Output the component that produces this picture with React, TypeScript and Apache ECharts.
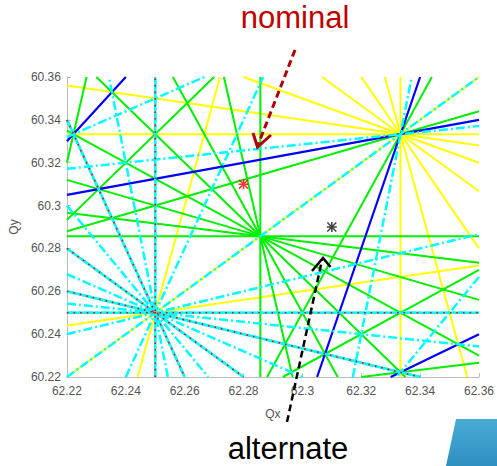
import React, { useEffect, useRef } from "react";
import * as echarts from "echarts";

// Axis ranges and tick labels
const xMin = 62.22;
const xMax = 62.36;
const yMin = 60.22;
const yMax = 60.36;
const tickStep = 0.02;

// Resonance lines m*Qx + n*Qy = p, grouped by order
const order4: number[][] = [[4, 0, 249], [0, 4, 241], [3, 1, 247], [2, 2, 245], [1, 3, 243]];
const order5: number[][] = [[4, -1, 189], [3, -2, 66], [2, -3, -56], [1, -4, -179]];
const order6: number[][] = [
  [6, 0, 374], [0, 6, 362], [5, 1, 372], [4, 2, 370], [3, 3, 368], [2, 4, 366], [1, 5, 364],
  [5, -1, 251], [3, -3, 6], [1, -5, -239],
];
const order7: number[][] = [
  [7, 0, 436], [0, 7, 422], [6, 1, 434], [5, 2, 432], [4, 3, 430], [3, 4, 428], [2, 5, 426], [1, 6, 424],
  [6, -1, 313], [5, -2, 191], [4, -3, 68], [3, -4, -54], [2, -5, -177], [1, -6, -299],
];
const order8: number[][] = [
  [8, 0, 498], [0, 8, 482], [7, 1, 496], [6, 2, 494], [5, 3, 492], [4, 4, 490], [3, 5, 488], [2, 6, 486], [1, 7, 484],
  [7, -1, 376], [6, -2, 253], [5, -3, 131], [4, -4, 8], [3, -5, -115], [2, -6, -237], [1, -7, -360],
];

// Working points
const nominalPoint = [62.28, 60.31];
const alternatePoint = [62.31, 60.29];

const FONT = "'Liberation Sans', Arial, sans-serif";

const STAR =
  "path://M0 8.5 L20 8.5 L20 11.5 L0 11.5 Z M8.5 0 L11.5 0 L11.5 20 L8.5 20 Z M0 2.1 L2.1 0 L20 17.9 L17.9 20 Z M17.9 0 L20 2.1 L2.1 20 L0 17.9 Z";

function segment(m: number, n: number, p: number): number[][] | null {
  const eps = 1e-9;
  const pts: number[][] = [];
  if (n !== 0) {
    for (const x of [xMin, xMax]) {
      const y = (p - m * x) / n;
      if (y >= yMin - eps && y <= yMax + eps) pts.push([x, y]);
    }
  }
  if (m !== 0) {
    for (const y of [yMin, yMax]) {
      const x = (p - n * y) / m;
      if (x >= xMin - eps && x <= xMax + eps) pts.push([x, y]);
    }
  }
  if (pts.length < 2) return null;
  let best: number[][] | null = null;
  let bd = -1;
  for (let i = 0; i < pts.length; i++)
    for (let j = i + 1; j < pts.length; j++) {
      const d = Math.hypot(pts[i][0] - pts[j][0], pts[i][1] - pts[j][1]);
      if (d > bd) {
        bd = d;
        best = [pts[i], pts[j]];
      }
    }
  return bd > 1e-6 ? best : null;
}

function lineSeries(group: number[][], color: string, width: number, type: any, z: number) {
  const out: any[] = [];
  group.forEach(([m, n, p]) => {
    const seg = segment(m, n, p);
    if (!seg) return;
    out.push({
      type: "line",
      data: seg,
      showSymbol: false,
      symbol: "none",
      silent: true,
      z,
      lineStyle: { color, width, type, cap: "butt" },
    });
  });
  return out;
}

const fmt = (v: number) => String(parseFloat(v.toFixed(2)));

export default function App() {
  const ref = useRef<HTMLDivElement>(null);
  useEffect(() => {
    if (!ref.current) return;
    const chart = echarts.init(ref.current, undefined, { renderer: "svg" });
    const series: any[] = [
      ...lineSeries(order6, "#ffff00", 2, "solid", 2),
      ...lineSeries(order7, "#00f000", 2, "solid", 3),
      ...lineSeries(order5, "#0000ff", 2.2, "solid", 4),
      ...lineSeries(order8, "#00ffff", 2.5, [9, 3, 2, 3], 5),
      ...lineSeries(order4, "#00ffff", 2.5, "solid", 6),
      ...lineSeries(order4, "#ff0000", 1.6, [1.6, 5], 7),
      {
        type: "scatter",
        data: [nominalPoint],
        symbol: STAR,
        symbolSize: 10,
        itemStyle: { color: "#ff0000" },
        z: 10,
        silent: true,
      },
      {
        type: "scatter",
        data: [alternatePoint],
        symbol: STAR,
        symbolSize: 10,
        itemStyle: { color: "#111111" },
        z: 10,
        silent: true,
      },
    ];
    const axisCommon = {
      interval: tickStep,
      axisLine: { show: true, lineStyle: { color: "#bdbdbd", width: 1 } },
      axisTick: { show: true, inside: true, length: 4, lineStyle: { color: "#bdbdbd" } },
      splitLine: { show: false },
      nameTextStyle: { color: "#555555", fontSize: 12, fontFamily: FONT },
    };
    chart.setOption({
      animation: false,
      backgroundColor: "#ffffff",
      grid: { left: 62, right: 18, top: 77, bottom: 89, containLabel: false },
      xAxis: {
        type: "value",
        min: xMin,
        max: xMax,
        ...axisCommon,
        name: "Qx",
        nameLocation: "middle",
        nameGap: 31,
        axisLabel: { color: "#555555", fontSize: 12, fontFamily: FONT, margin: 8, formatter: fmt },
      },
      yAxis: {
        type: "value",
        min: yMin,
        max: yMax,
        ...axisCommon,
        name: "Qy",
        nameLocation: "middle",
        nameGap: 44,
        nameRotate: 90,
        axisLabel: { color: "#555555", fontSize: 12, fontFamily: FONT, margin: 6, formatter: fmt },
      },
      series,
      graphic: [
        {
          type: "text",
          x: 295,
          y: 33,
          style: {
            text: "nominal",
            fill: "#c00000",
            font: `31px ${FONT}`,
            textAlign: "center",
            textVerticalAlign: "bottom",
          },
          z: 100,
        },
        {
          type: "line",
          shape: { x1: 295, y1: 50, x2: 258, y2: 145 },
          style: { stroke: "#b00000", lineWidth: 3, lineDash: [7, 4] },
          z: 100,
        },
        {
          type: "polyline",
          shape: { points: [[253, 133], [257.5, 147], [271, 135]] },
          style: { stroke: "#b00000", lineWidth: 3, fill: "none" },
          z: 100,
        },
        {
          type: "line",
          shape: { x1: 287, y1: 422, x2: 322, y2: 260 },
          style: { stroke: "#000000", lineWidth: 2.5, lineDash: [7, 4] },
          z: 100,
        },
        {
          type: "polyline",
          shape: { points: [[312, 271], [323, 258], [330.5, 267]] },
          style: { stroke: "#000000", lineWidth: 2.5, fill: "none" },
          z: 100,
        },
        {
          type: "text",
          x: 288,
          y: 464,
          style: {
            text: "alternate",
            fill: "#000000",
            font: `31px ${FONT}`,
            textAlign: "center",
            textVerticalAlign: "bottom",
          },
          z: 100,
        },
        {
          type: "polygon",
          shape: { points: [[456, 419], [497, 419], [497, 466], [446, 466]] },
          style: {
            fill: new echarts.graphic.LinearGradient(0, 0, 0, 1, [
              { offset: 0, color: "#4aaad6" },
              { offset: 1, color: "#2f8fbf" },
            ]),
          },
          z: 100,
        },
      ],
    });
    return () => chart.dispose();
  }, []);
  return (
    <div
      ref={ref}
      style={{ position: "fixed", left: 0, top: 0, width: 497, height: 466, background: "#fff" }}
    />
  );
}
